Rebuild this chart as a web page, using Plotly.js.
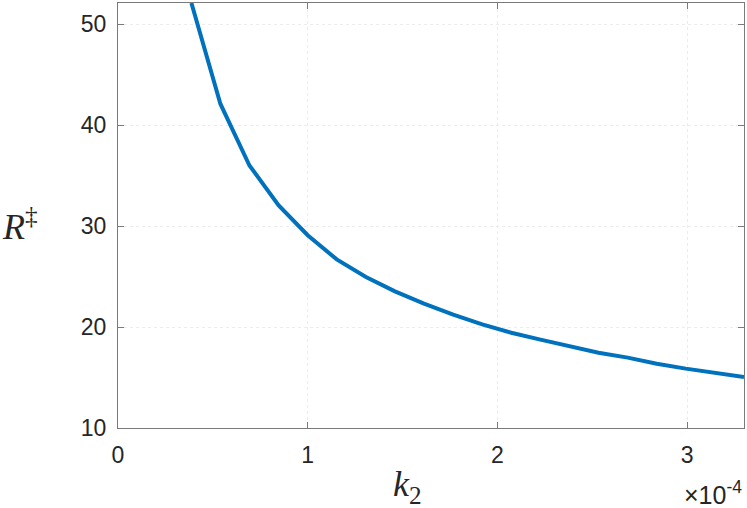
<!DOCTYPE html>
<html>
<head>
<meta charset="utf-8">
<script src="https://cdn.plot.ly/plotly-3.0.1.min.js"></script>
<style>html,body{margin:0;padding:0;background:#fff;}#chart{width:747px;height:508px;}</style>
</head>
<body>
<div id="chart"></div>
<script>
// k2 values (units of 1e-4 shown via tick labels)
const k2 = [0.387e-4, 0.540e-4, 0.693e-4, 0.847e-4, 1.000e-4, 1.153e-4, 1.307e-4, 1.460e-4,
            1.613e-4, 1.767e-4, 1.920e-4, 2.073e-4, 2.227e-4, 2.380e-4, 2.533e-4, 2.687e-4,
            2.840e-4, 2.993e-4, 3.147e-4, 3.300e-4];
const R = [52.1, 42.1, 36.0, 32.05, 29.1, 26.7, 24.96, 23.54,
           22.32, 21.23, 20.27, 19.44, 18.75, 18.09, 17.46, 16.97,
           16.37, 15.88, 15.44, 15.05];
const xTickVals = [0, 1e-4, 2e-4, 3e-4];
const xTickText = ['0', '1', '2', '3'];
const yTickVals = [10, 20, 30, 40, 50];

const axisCommon = {
  showline: true, linecolor: '#7a7a7a', linewidth: 1, mirror: 'allticks',
  ticks: 'inside', ticklen: 6, tickcolor: '#7a7a7a', tickwidth: 1,
  showgrid: true, gridcolor: '#ececec', griddash: 'dot', gridwidth: 1,
  zeroline: false,
  tickfont: {family: 'Liberation Sans, Arial, sans-serif', size: 23, color: '#262626'}
};

const layout = {
  width: 747, height: 508,
  margin: {l: 118, r: 3, t: 3, b: 80},
  paper_bgcolor: '#ffffff', plot_bgcolor: '#ffffff',
  showlegend: false,
  xaxis: Object.assign({}, axisCommon, {
    range: [0, 3.3e-4], tickmode: 'array', tickvals: xTickVals, ticktext: xTickText,
    ticklabelstandoff: 6
  }),
  yaxis: Object.assign({}, axisCommon, {
    range: [10, 52.1], tickmode: 'array', tickvals: yTickVals,
    ticklabelstandoff: 6
  }),
  annotations: [
    {xref: 'paper', yref: 'paper', x: 0.462, y: -0.08, xanchor: 'center', yanchor: 'top',
     text: 'k<sub><span style="font-style:normal">2</span></sub>', showarrow: false,
     font: {family: 'Liberation Serif, serif', size: 36, color: '#262626', style: 'italic'}},
    {xref: 'paper', yref: 'paper', x: -0.188, y: 0.48, xanchor: 'left', yanchor: 'middle',
     text: 'R<sup><span style="font-style:normal">‡</span></sup>', showarrow: false,
     font: {family: 'Liberation Serif, serif', size: 36, color: '#262626', style: 'italic'}},
    {xref: 'paper', yref: 'paper', x: 1.0, y: -0.11, xanchor: 'right', yanchor: 'top',
     text: '×10<sup>-4</sup>', showarrow: false,
     font: {family: 'Liberation Sans, Arial, sans-serif', size: 25, color: '#262626'}}
  ]
};

Plotly.newPlot('chart', [{
  x: k2, y: R, type: 'scatter', mode: 'lines',
  line: {color: '#0072BD', width: 4},
  cliponaxis: true
}], layout, {staticPlot: true, displayModeBar: false});
</script>
</body>
</html>
